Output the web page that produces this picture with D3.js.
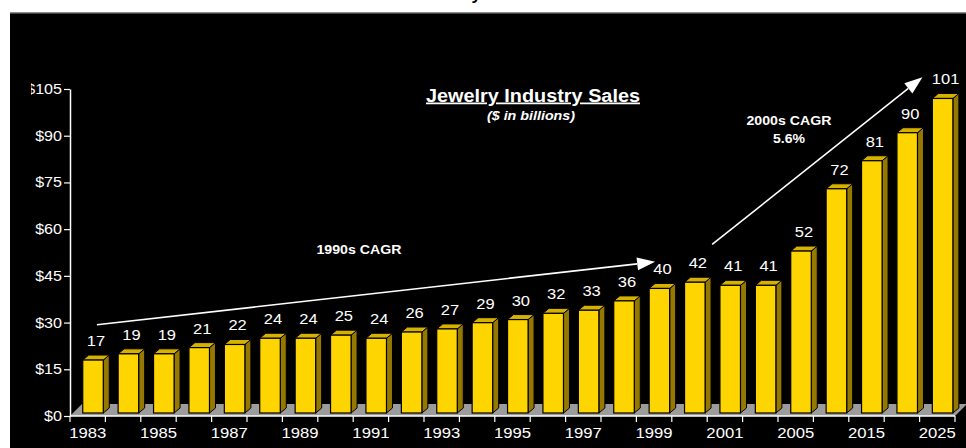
<!DOCTYPE html>
<html>
<head>
<meta charset="utf-8">
<script src="https://cdn.jsdelivr.net/npm/d3@7"></script>
<style>
  body { margin: 0; background: #fff; }
  svg { display: block; font-family: "Liberation Sans", Arial, Helvetica, sans-serif; }
</style>
</head>
<body>
<div id="chart"></div>
<script>
// data
var years = ["1983", "1984", "1985", "1986", "1987", "1988", "1989", "1990", "1991", "1992",
             "1993", "1994", "1995", "1996", "1997", "1998", "1999", "2000", "2001", "2003",
             "2005", "2010", "2015", "2020", "2025"];
var sales = [17, 19, 19, 21, 22, 24, 24, 25, 24, 26, 27, 29, 30, 32, 33, 36, 40, 42, 41, 41,
             52, 72, 81, 90, 101];
var yTicks = [0, 15, 30, 45, 60, 75, 90, 105];
var yearLabels = ["1983", "1985", "1987", "1989", "1991", "1993", "1995", "1997", "1999",
                  "2001", "2005", "2015", "2025"];

var data = years.map(function (d, i) { return { year: d, value: sales[i] }; });

var width = 966, height = 448;
var left = 70, right = 955, base = 416, topY = 89;
var dx = 6, dy = 5;          // bar depth
var fdx = 12, fdy = 12;      // floor depth
var lift = 3;                // bars sit mid-depth on the floor

var svg = d3.select("#chart").append("svg")
    .attr("width", width)
    .attr("height", height);

// stretched text helper (original slide text is a bit wide)
function stext(g, x, y, str, k) {
  return g.append("text")
      .attr("transform", "translate(" + x + "," + y + ") scale(" + (k || 1.15) + ",1)")
      .text(str);
}

// page frame
svg.append("rect").attr("x", 10).attr("y", 12).attr("width", width - 10).attr("height", height - 12)
    .attr("fill", "#000");
svg.append("rect").attr("x", 10).attr("y", 12).attr("width", width - 10).attr("height", 1.5)
    .attr("fill", "#8a8a8a");
// cut-off slide heading above the frame
svg.append("text").attr("x", 481).attr("y", 0).attr("text-anchor", "end")
    .attr("font-size", 17).attr("font-weight", "bold").attr("fill", "#000").text("Industry");

// scales
var x = d3.scaleBand().domain(years).range([left, right]).padding(0);
var y = d3.scaleLinear().domain([0, 105]).range([base, topY]);
var barW = x.bandwidth() * 0.58, barOff = x.bandwidth() * 0.36;

// floor
svg.append("polygon")
    .attr("points", [[left, base], [right, base], [right + fdx, base - fdy], [left + fdx, base - fdy]].join(" "))
    .attr("fill", "#9c9c9c");

// bars
var bars = svg.selectAll(".bar").data(data).enter().append("g").attr("class", "bar");

function bx(d) { return x(d.year) + barOff; }
function by(d) { return y(d.value) - lift; }
var yb = y(0) - lift;

bars.append("polygon")
    .attr("points", function (d) {
      var x0 = bx(d) + barW, t = by(d);
      return [[x0, t], [x0 + dx, t - dy], [x0 + dx, yb - dy], [x0, yb]].join(" ");
    })
    .attr("fill", "#947800").attr("stroke", "#000").attr("stroke-width", 1).attr("stroke-linejoin", "round");

bars.append("polygon")
    .attr("points", function (d) {
      var x0 = bx(d), t = by(d);
      return [[x0, t], [x0 + dx, t - dy], [x0 + barW + dx, t - dy], [x0 + barW, t]].join(" ");
    })
    .attr("fill", "#d6b200").attr("stroke", "#000").attr("stroke-width", 1).attr("stroke-linejoin", "round");

bars.append("rect")
    .attr("x", bx)
    .attr("y", by)
    .attr("width", barW)
    .attr("height", function (d) { return yb - by(d); })
    .attr("fill", "#ffd500").attr("stroke", "#000").attr("stroke-width", 1.2);

// value labels
bars.each(function (d) {
  stext(d3.select(this), bx(d) + (barW + dx) / 2, by(d) - 14, d.value, 1.1)
      .attr("text-anchor", "middle").attr("font-size", 15).attr("fill", "#fff");
});

// y axis
var yAxis = svg.append("g")
    .attr("transform", "translate(" + left + ",0)")
    .call(d3.axisLeft(y).tickValues(yTicks).tickSize(6).tickSizeOuter(0)
      .tickFormat(function (d) { return "$" + d; }));
yAxis.select(".domain").attr("stroke", "#fff").attr("stroke-width", 1.5);
yAxis.selectAll(".tick line").attr("stroke", "#fff").attr("stroke-width", 1.2);
yAxis.selectAll(".tick text").remove();

svg.append("clipPath").attr("id", "yclip")
  .append("rect").attr("x", 31).attr("y", 0).attr("width", 60).attr("height", height);
var yLab = svg.append("g").attr("clip-path", "url(#yclip)");
yTicks.forEach(function (t) {
  stext(yLab, 62, y(t) + 5, "$" + t, 1.15)
      .attr("text-anchor", "end").attr("font-size", 14).attr("fill", "#fff");
});

// x axis
svg.append("line").attr("x1", left).attr("x2", right).attr("y1", base).attr("y2", base)
    .attr("stroke", "#fff").attr("stroke-width", 1.5);
svg.selectAll(".xtick").data(years.concat(["end"])).enter().append("line")
    .attr("x1", function (d, i) { return left + i * x.step(); })
    .attr("x2", function (d, i) { return left + i * x.step(); })
    .attr("y1", base).attr("y2", base + 6)
    .attr("stroke", "#fff").attr("stroke-width", 1.2);
var xLab = svg.append("g");
yearLabels.forEach(function (t) {
  stext(xLab, x(t) + x.bandwidth() / 2, 438, t, 1.15)
      .attr("text-anchor", "middle").attr("font-size", 14.5).attr("fill", "#fff");
});

// titles
svg.append("text").attr("x", 533).attr("y", 101.5).attr("text-anchor", "middle")
    .attr("font-size", 17.5).attr("font-weight", "bold").attr("fill", "#fff")
    .attr("text-decoration", "underline")
    .attr("textLength", 214).attr("lengthAdjust", "spacingAndGlyphs")
    .text("Jewelry Industry Sales");
svg.append("text").attr("x", 531).attr("y", 120).attr("text-anchor", "middle")
    .attr("font-size", 12).attr("font-weight", "bold").attr("font-style", "italic").attr("fill", "#fff")
    .attr("textLength", 88).attr("lengthAdjust", "spacingAndGlyphs")
    .text("($ in billions)");

// CAGR arrows (band units, $ values)
var arrows = [
  { u1: 0.76, v1: 29.3, u2: 16.53, v2: 49.5 },
  { u1: 18.14, v1: 55.1, u2: 24.08, v2: 108.8 }
];
arrows.forEach(function (a) {
  var x1 = left + a.u1 * x.step(), y1 = y(a.v1);
  var x2 = left + a.u2 * x.step(), y2 = y(a.v2);
  var ang = Math.atan2(y2 - y1, x2 - x1), L = 18, W = 6.5;
  var bxp = x2 - L * Math.cos(ang), byp = y2 - L * Math.sin(ang);
  svg.append("line").attr("x1", x1).attr("y1", y1).attr("x2", bxp).attr("y2", byp)
      .attr("stroke", "#fff").attr("stroke-width", 1.6);
  svg.append("polygon")
      .attr("points", [[x2, y2],
        [bxp + W * Math.sin(ang), byp - W * Math.cos(ang)],
        [bxp - W * Math.sin(ang), byp + W * Math.cos(ang)]].join(" "))
      .attr("fill", "#fff");
});

var notes = svg.append("g").attr("fill", "#fff").attr("font-weight", "bold").attr("font-size", 12)
    .attr("text-anchor", "middle");
notes.append("text").attr("x", 359).attr("y", 254).attr("textLength", 85).attr("lengthAdjust", "spacingAndGlyphs")
    .text("1990s CAGR");
notes.append("text").attr("x", 789).attr("y", 125).attr("textLength", 85).attr("lengthAdjust", "spacingAndGlyphs")
    .text("2000s CAGR");
notes.append("text").attr("x", 789).attr("y", 143).attr("textLength", 32).attr("lengthAdjust", "spacingAndGlyphs")
    .text("5.6%");
</script>
</body>
</html>
